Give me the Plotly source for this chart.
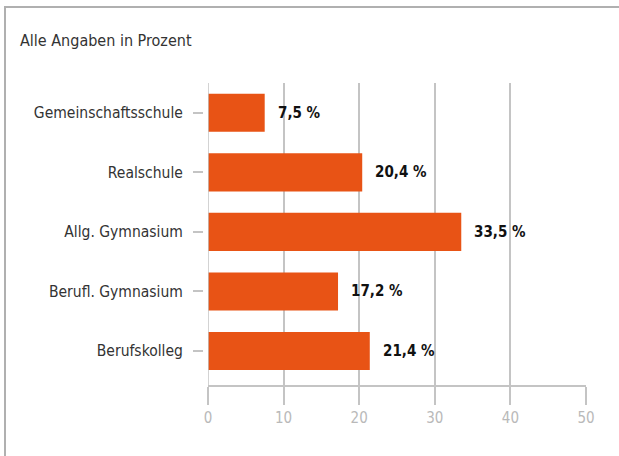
import plotly.graph_objects as go

categories = ["Gemeinschaftsschule", "Realschule", "Allg. Gymnasium", "Berufl. Gymnasium", "Berufskolleg"]
values = [7.5, 20.4, 33.5, 17.2, 21.4]
x_ticks = [0, 10, 20, 30, 40, 50]

FONT = "DejaVu Sans Condensed"
BAR = "#e85315"
GRID = "#c4c4c4"

W, H = 619, 456
L, R, T, B = 203, 33, 83, 71
plot_w = W - L - R
gap = 5 / plot_w

fig = go.Figure()
fig.add_trace(go.Bar(
    y=categories,
    x=values,
    orientation="h",
    marker=dict(color=BAR, line=dict(width=0)),
    width=0.64,
    hoverinfo="skip",
))

# value labels right of the bars
for cat, val in zip(categories, values):
    fig.add_annotation(
        x=val, y=cat, text="<b>" + f"{val:.1f}".replace(".", ",") + " %</b>",
        xanchor="left", yanchor="middle", xshift=11, showarrow=False,
        font=dict(family=FONT, size=15, color="#111111"),
    )

fig.update_layout(
    width=W, height=H,
    margin=dict(l=L, r=R, t=T, b=B),
    plot_bgcolor="white", paper_bgcolor="white",
    showlegend=False,
    title=dict(
        text="Alle Angaben in Prozent",
        x=20 / W, xanchor="left", xref="container",
        y=1 - 40 / H, yanchor="middle", yref="container",
        font=dict(family=FONT, size=16, color="#333333"),
    ),
    xaxis=dict(
        domain=[gap, 1],
        range=[0, 50],
        tickvals=x_ticks,
        ticktext=[str(t) for t in x_ticks],
        showgrid=True, gridcolor=GRID, gridwidth=1.5,
        zeroline=False,
        showline=True, linecolor=GRID, linewidth=2,
        ticks="outside", ticklen=18, tickcolor=GRID, tickwidth=1.5,
        tickfont=dict(family=FONT, size=15, color="#b9b9b9"),
        fixedrange=True,
    ),
    yaxis=dict(
        anchor="free", position=0,
        range=[4.57, -0.5],
        showgrid=False, zeroline=False, showline=False,
        ticks="outside", ticklen=10, tickcolor=GRID, tickwidth=1.5,
        ticklabelstandoff=7,
        tickfont=dict(family=FONT, size=15.5, color="#333333"),
        fixedrange=True,
    ),
)

# outer frame (top and left edges of the card)
px = lambda v: (v - L) / plot_w
py = lambda v: 1 - (v - T) / (H - T - B)
fig.add_shape(type="line", xref="paper", yref="paper",
              x0=px(4), x1=px(W + 5), y0=py(7), y1=py(7),
              line=dict(color="#b0b0b0", width=2))
fig.add_shape(type="line", xref="paper", yref="paper",
              x0=px(5), x1=px(5), y0=py(7), y1=py(H + 5),
              line=dict(color="#b0b0b0", width=2))
# x=0 line down to the tick row
fig.add_shape(type="line", xref="x", yref="paper",
              x0=0, x1=0, y0=1, y1=py(403),
              line=dict(color=GRID, width=1.5))

fig.write_html("out.html", config={"displayModeBar": False},
               post_script="document.body.style.margin='0';")
